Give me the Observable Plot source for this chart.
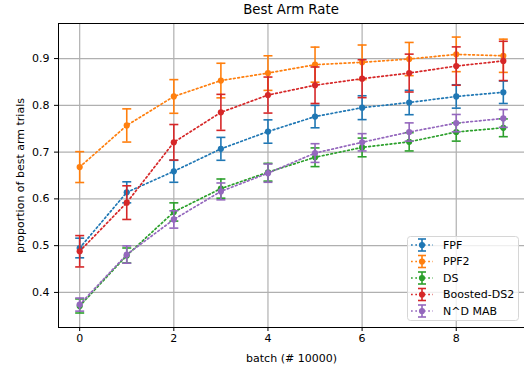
<!DOCTYPE html>
<html><head><meta charset="utf-8">
<script src="https://cdn.jsdelivr.net/npm/d3@7"></script>
<script src="https://cdn.jsdelivr.net/npm/@observablehq/plot@0.6"></script>
<style>
body{margin:0;background:#fff;font-family:"DejaVu Sans",sans-serif;}
#wrap{position:relative;width:524px;height:369px;overflow:hidden;background:#fff;}
#title{position:absolute;left:58px;width:466px;top:1px;text-align:center;font-size:13.3px;line-height:17px;color:#000;}
#chart{position:absolute;left:0;top:20px;}
#legend{position:absolute;left:407px;top:236px;}
</style></head>
<body><div id="wrap"><div id="title">Best Arm Rate</div><div id="chart"></div><svg id="legend" width="113" height="86"></svg></div>
<script>
const batches = [0,1,2,3,4,5,6,7,8,9];
const seriesNames = ["FPF","PPF2","DS","Boosted-DS2","N^D MAB"];
const seriesColors = ["#1f77b4","#ff7f0e","#2ca02c","#d62728","#9467bd"];
const fpfMean = [0.495,0.614,0.659,0.707,0.744,0.776,0.795,0.806,0.819,0.828];
const fpfErr  = [0.021,0.0225,0.0235,0.0245,0.025,0.024,0.0255,0.026,0.025,0.024];
const ppf2Mean = [0.668,0.757,0.819,0.853,0.869,0.887,0.892,0.899,0.909,0.906];
const ppf2Err  = [0.033,0.0355,0.036,0.037,0.037,0.0375,0.037,0.0355,0.037,0.0355];
const dsMean = [0.371,0.479,0.572,0.622,0.657,0.689,0.710,0.722,0.743,0.752];
const dsErr  = [0.015,0.016,0.0195,0.0205,0.019,0.020,0.020,0.0195,0.0195,0.019];
const boostedMean = [0.488,0.592,0.721,0.785,0.822,0.843,0.857,0.869,0.884,0.895];
const boostedErr  = [0.0335,0.036,0.038,0.0385,0.0385,0.039,0.0405,0.0405,0.041,0.042];
const ndMean = [0.374,0.481,0.556,0.616,0.655,0.698,0.721,0.743,0.762,0.772];
const ndErr  = [0.014,0.0185,0.0185,0.018,0.0195,0.020,0.0185,0.0195,0.0185,0.019];
const xTicks = [0,2,4,6,8];
const yTicks = [0.4,0.5,0.6,0.7,0.8,0.9];

const means = [fpfMean, ppf2Mean, dsMean, boostedMean, ndMean];
const errs = [fpfErr, ppf2Err, dsErr, boostedErr, ndErr];

const capSymbol = {draw(ctx){ ctx.moveTo(-4.5,0); ctx.lineTo(4.5,0); }};

const seriesMarks = [];
seriesNames.forEach((name, i) => {
  const rows = batches.map((b, j) => ({x: b, y: means[i][j], lo: means[i][j]-errs[i][j], hi: means[i][j]+errs[i][j]}));
  const c = seriesColors[i];
  seriesMarks.push(
    Plot.line(rows, {x: "x", y: "y", stroke: c, strokeWidth: 1.7, strokeDasharray: "1.7,2.6"}),
    Plot.ruleX(rows, {x: "x", y1: "lo", y2: "hi", stroke: c, strokeWidth: 1.6}),
    Plot.dot(rows, {x: "x", y: "lo", symbol: capSymbol, r: 4, stroke: c, strokeWidth: 1.6, fill: "none"}),
    Plot.dot(rows, {x: "x", y: "hi", symbol: capSymbol, r: 4, stroke: c, strokeWidth: 1.6, fill: "none"}),
    Plot.dot(rows, {x: "x", y: "y", r: 3.1, fill: c, stroke: "none"})
  );
});

const chart = Plot.plot({
  width: 524, height: 349,
  marginTop: 3, marginBottom: 42, marginLeft: 58, marginRight: 0,
  x: {domain: [-0.45, 9.45]},
  y: {domain: [0.325, 0.975]},
  style: {fontFamily: "DejaVu Sans, sans-serif", fontSize: "11px", color: "#000", background: "white", overflow: "visible"},
  marks: [
    Plot.gridX({ticks: xTicks, stroke: "#b0b0b0", strokeOpacity: 1, strokeWidth: 1.2}),
    Plot.gridY({ticks: yTicks, stroke: "#b0b0b0", strokeOpacity: 1, strokeWidth: 1.2}),
    ...seriesMarks,
    Plot.axisX({ticks: xTicks, tickSize: 4, tickPadding: 3, label: "batch (# 10000)", labelAnchor: "center", labelArrow: false, labelOffset: 34}),
    Plot.axisY({ticks: yTicks, tickFormat: ".1f", tickSize: 4, tickPadding: 5, label: "proportion of best arm trials", labelAnchor: "center", labelArrow: false, labelOffset: 42}),
    Plot.frame({stroke: "#000", strokeWidth: 1})
  ]
});
document.getElementById("chart").appendChild(chart);

// legend
const lg = d3.select("#legend");
lg.append("rect").attr("x",0.5).attr("y",0.5).attr("width",111).attr("height",84).attr("rx",3)
  .attr("fill","rgba(255,255,255,0.8)").attr("stroke","#d6d6d6");
seriesNames.forEach((name, i) => {
  const cy = 9 + i*16.5, c = seriesColors[i];
  const g = lg.append("g");
  g.append("line").attr("x1",4).attr("x2",26).attr("y1",cy).attr("y2",cy).attr("stroke",c).attr("stroke-width",1.7).attr("stroke-dasharray","1.7,2.6");
  g.append("line").attr("x1",15).attr("x2",15).attr("y1",cy-6).attr("y2",cy+6).attr("stroke",c).attr("stroke-width",1.6);
  g.append("line").attr("x1",11).attr("x2",19).attr("y1",cy-6).attr("y2",cy-6).attr("stroke",c).attr("stroke-width",1.6);
  g.append("line").attr("x1",11).attr("x2",19).attr("y1",cy+6).attr("y2",cy+6).attr("stroke",c).attr("stroke-width",1.6);
  g.append("circle").attr("cx",15).attr("cy",cy).attr("r",3.1).attr("fill",c);
  g.append("text").attr("x",36).attr("y",cy).attr("dy","0.35em").attr("font-size","11px")
    .attr("font-family","DejaVu Sans, sans-serif").text(name);
});
</script></body></html>
